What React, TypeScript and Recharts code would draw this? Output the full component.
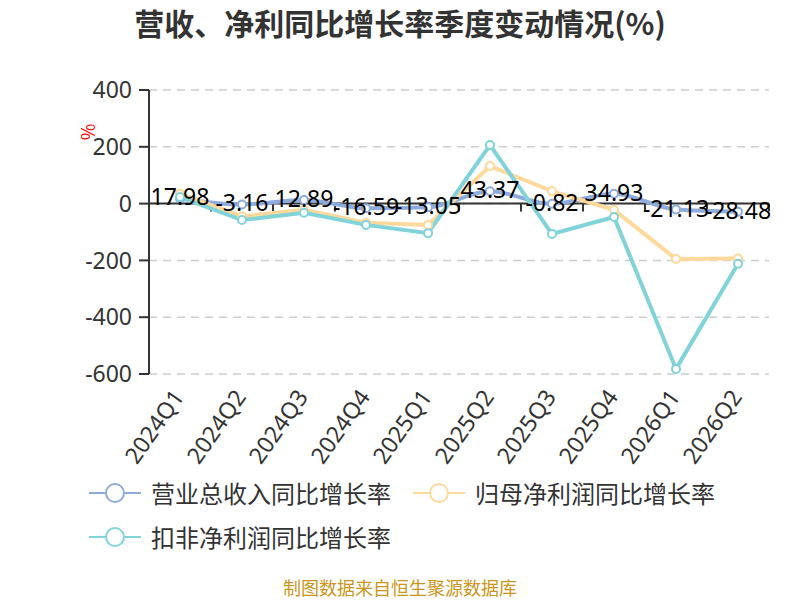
import { LineChart, Line, XAxis, YAxis, CartesianGrid, ReferenceLine, LabelList } from 'recharts';

const quarters = ['2024Q1', '2024Q2', '2024Q3', '2024Q4', '2025Q1', '2025Q2', '2025Q3', '2025Q4', '2026Q1', '2026Q2'];
const revenueGrowth = [17.98, -3.16, 12.89, -16.59, -13.05, 43.37, -0.82, 34.93, -21.13, -28.48];
const netProfitGrowth = [35, -45, -22, -67, -75, 132, 44, -22, -195, -193];
const deductedProfitGrowth = [23, -58, -32, -75, -104, 206, -107, -47, -582, -212];
const yTicks = [-600, -400, -200, 0, 200, 400];

const seriesNames = ['营业总收入同比增长率', '归母净利润同比增长率', '扣非净利润同比增长率'];
const colors = ['#8eabdd', '#ffd89b', '#80d4d9'];

const data = quarters.map((q, i) => ({
  q,
  revenue: revenueGrowth[i],
  net: netProfitGrowth[i],
  deducted: deductedProfitGrowth[i],
}));

const font = "'Noto Sans CJK SC', 'Noto Sans', sans-serif";
const numFont = "'Noto Sans', 'Open Sans', sans-serif";

function XTick({ x, y, payload }: any) {
  const ax = x + 5;
  const ay = y + 15;
  return (
    <text
      x={ax}
      y={ay}
      transform={`rotate(-55, ${ax}, ${ay})`}
      textAnchor="end"
      fontSize={23}
      fill="#333"
      fontFamily={numFont}
    >
      {payload.value}
    </text>
  );
}

// zero line with the category boundary ticks hanging below it
function ZeroLine(props: any) {
  const { x1, y1, x2 } = props;
  const step = (x2 - x1) / quarters.length;
  return (
    <g>
      <line x1={x1} y1={y1} x2={x2} y2={y1} stroke="#333" strokeWidth={2} />
      {quarters.map((_, i) => (
        <line key={i} x1={x1 + step * (i + 1)} y1={y1} x2={x1 + step * (i + 1)} y2={y1 + 8} stroke="#333" strokeWidth={2} />
      ))}
    </g>
  );
}

function ValueLabel({ x, y, value }: any) {
  return (
    <text x={x} y={y + 7} textAnchor="middle" fontSize={23} fill="#000" fontFamily={numFont}>
      {Number(value).toFixed(2)}
    </text>
  );
}

function LegendIcon({ color }: { color: string }) {
  return (
    <svg width={52} height={24} style={{ display: 'block' }}>
      <line x1={0} y1={12} x2={52} y2={12} stroke={color} strokeWidth={2} />
      <circle cx={26} cy={12} r={9} fill="#fff" stroke={color} strokeWidth={2} />
    </svg>
  );
}

const legendPos = [
  { left: 89, top: 475 },
  { left: 413, top: 475 },
  { left: 89, top: 519 },
];

export default function App() {
  return (
    <div style={{ position: 'absolute', left: 0, top: 0, width: 800, height: 600, background: '#fff', fontFamily: font, overflow: 'hidden' }}>
      <div style={{ position: 'absolute', top: 5, left: 0, width: 800, textAlign: 'center', fontSize: 30, fontWeight: 'bold', color: '#333', lineHeight: '34px' }}>
        营收、净利同比增长率季度变动情况(%)
      </div>
      <div style={{ position: 'absolute', left: 78, top: 121, width: 18, height: 22, color: 'red', fontSize: 18, lineHeight: '22px', textAlign: 'center', transform: 'rotate(-90deg)' }}>
        %
      </div>
      <LineChart width={800} height={600} data={data} margin={{ top: 90, right: 31, left: 0, bottom: 126 }}>
        <CartesianGrid horizontal vertical={false} stroke="#ccc" strokeWidth={1.5} strokeDasharray="8 6" />
        <XAxis dataKey="q" scale="band" axisLine={false} tickLine={false} tick={<XTick />} interval={0} height={100} />
        <YAxis
          domain={[-600, 400]}
          ticks={yTicks}
          width={149}
          axisLine={{ stroke: '#333', strokeWidth: 2 }}
          tickLine={{ stroke: '#333', strokeWidth: 2 }}
          tickSize={10}
          tickMargin={7}
          tick={{ fontSize: 23, fill: '#333', fontFamily: numFont }}
        />
        <ReferenceLine y={0} shape={<ZeroLine />} />
        <Line
          type="monotone"
          dataKey="revenue"
          name={seriesNames[0]}
          stroke={colors[0]}
          strokeWidth={4}
          dot={{ r: 4, fill: '#fff', stroke: colors[0], strokeWidth: 2 }}
          isAnimationActive={false}
        />
        <Line
          type="linear"
          dataKey="net"
          name={seriesNames[1]}
          stroke={colors[1]}
          strokeWidth={4}
          dot={{ r: 4, fill: '#fff', stroke: colors[1], strokeWidth: 2 }}
          isAnimationActive={false}
        />
        <Line
          type="linear"
          dataKey="deducted"
          name={seriesNames[2]}
          stroke={colors[2]}
          strokeWidth={4}
          dot={{ r: 4, fill: '#fff', stroke: colors[2], strokeWidth: 2 }}
          isAnimationActive={false}
        />
        {/* invisible copy of the revenue series so its labels sit above all lines */}
        <Line
          type="monotone"
          dataKey="revenue"
          stroke="none"
          dot={false}
          activeDot={false}
          legendType="none"
          isAnimationActive={false}
        >
          <LabelList dataKey="revenue" content={<ValueLabel />} />
        </Line>
      </LineChart>
      {seriesNames.map((name, i) => (
        <div key={name} style={{ position: 'absolute', left: legendPos[i].left, top: legendPos[i].top, display: 'flex', alignItems: 'center', gap: 10, fontSize: 24, color: '#333' }}>
          <LegendIcon color={colors[i]} />
          <span>{name}</span>
        </div>
      ))}
      <div style={{ position: 'absolute', top: 576, left: 0, width: 800, textAlign: 'center', fontSize: 18, color: '#c9961a', lineHeight: '22px' }}>
        制图数据来自恒生聚源数据库
      </div>
    </div>
  );
}
